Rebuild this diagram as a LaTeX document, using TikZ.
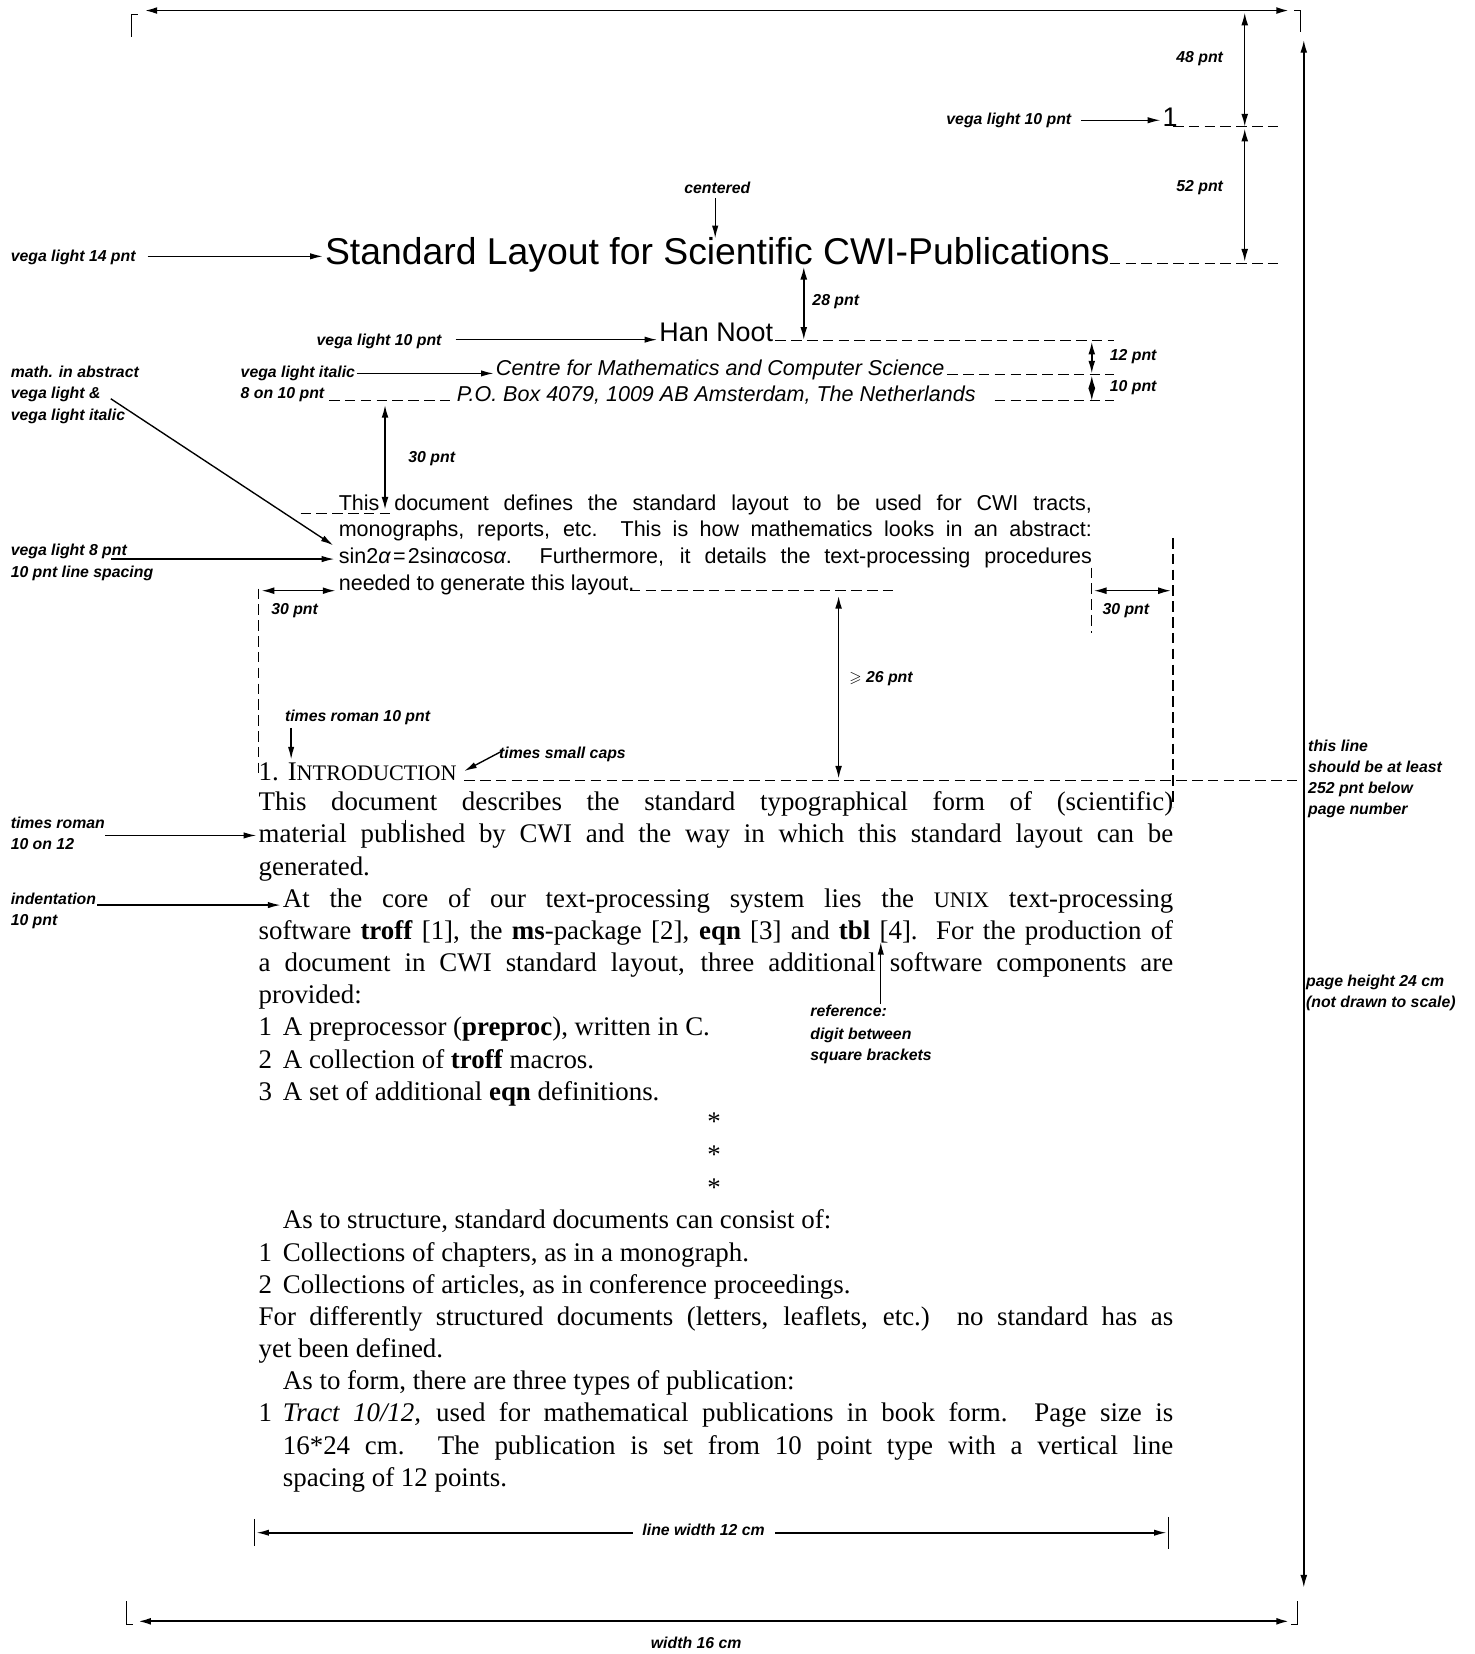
\documentclass[tikz,border=0pt]{standalone}
\usepackage{amssymb}
\usepackage{fontspec}
\setmainfont{Liberation Serif}
\newfontfamily\vegafont{Liberation Sans}
\usetikzlibrary{arrows.meta}
\newcommand\fakesc[1]{{\fontsize{21}{21}\selectfont #1}}
\tikzset{
 annot/.style={font=\vegafont\bfseries\itshape\fontsize{15}{18}\selectfont, inner sep=0pt, anchor=base west},
 bodytxt/.style={font=\fontsize{25.5}{30.5}\selectfont, inner sep=0pt, anchor=base west},
 abstxt/.style={font=\vegafont\fontsize{20.4}{25.5}\selectfont, inner sep=0pt, anchor=base west},
 dimarrow/.style={{Latex[length=12pt,width=6.5pt]}-{Latex[length=12pt,width=6.5pt]}, line width=1.4pt},
 ptr/.style={-{Latex[length=12pt,width=6pt]}, line width=1.3pt},
 guide/.style={dash pattern=on 10pt off 5pt, line width=1.2pt},
 corner/.style={line width=1.2pt},
}
\begin{document}
\begin{tikzpicture}[x=1pt,y=-1pt]
\useasboundingbox (0,0) rectangle (1398,1568);

% ---------------- text of the page ----------------
\node[font=\vegafont\fontsize{25.5}{30}\selectfont, inner sep=0pt, anchor=base west] (pnum) at (1102,120) {1};
\node[font=\vegafont\fontsize{35.4}{40}\selectfont, inner sep=0pt, anchor=base] (title) at (680,251) {Standard Layout for Scientific CWI-Publications};
\node[font=\vegafont\fontsize{25.5}{30}\selectfont, inner sep=0pt, anchor=base west] (author) at (625,324) {Han Noot};
\node[abstxt, font=\vegafont\itshape\fontsize{20.4}{25.5}\selectfont] (inst) at (470,356) {Centre for Mathematics and Computer Science};
\node[abstxt, font=\vegafont\itshape\fontsize{20.4}{25.5}\selectfont] (addr) at (433,381) {P.O. Box 4079, 1009 AB Amsterdam, The Netherlands};

\node[abstxt] (ab1) at (321,483.5) {\makebox[714pt][s]{This document defines the standard layout to be used for CWI tracts,}};
\node[abstxt] (ab2) at (321,509) {\makebox[714pt][s]{monographs, reports, etc.\ \ This is how mathematics looks in an abstract:}};
\node[abstxt] (ab3) at (321,534.5) {\makebox[714pt][s]{sin2\textit{α}\kern2pt=\kern2pt2sin\textit{α}cos\textit{α}.\ \ Furthermore, it details the text-processing procedures}};
\node[abstxt] (ab4) at (321,560) {needed to generate this layout.};

\node[bodytxt] (intro) at (245,740) {1. I\fakesc{NTRODUCTION}};
\node[bodytxt] (b1) at (245,768.5) {\makebox[867pt][s]{This document describes the standard typographical form of (scientific)}};
\node[bodytxt] (b2) at (245,799) {\makebox[867pt][s]{material published by CWI and the way in which this standard layout can be}};
\node[bodytxt] (b3) at (245,829.5) {generated.};
\node[bodytxt] (b4) at (268,860) {\makebox[844pt][s]{At the core of our text-processing system lies the \fakesc{UNIX} text-processing}};
\node[bodytxt] (b5) at (245,890.5) {\makebox[867pt][s]{software \textbf{troff} [1], the \textbf{ms}-package [2], \textbf{eqn} [3] and \textbf{tbl} [4].\ \ For the production of}};
\node[bodytxt] (b6) at (245,921) {\makebox[867pt][s]{a document in CWI standard layout, three additional software components are}};
\node[bodytxt] (b7) at (245,951.5) {provided:};
\node[bodytxt] (b8) at (245,982) {\makebox[23pt][l]{1}A preprocessor (\textbf{preproc}), written in C.};
\node[bodytxt] (b9) at (245,1012.5) {\makebox[23pt][l]{2}A collection of \textbf{troff} macros.};
\node[bodytxt] (b10) at (245,1043) {\makebox[23pt][l]{3}A set of additional \textbf{eqn} definitions.};

\node[bodytxt, anchor=base] (st1) at (677,1072) {*};
\node[bodytxt, anchor=base] (st2) at (677,1103) {*};
\node[bodytxt, anchor=base] (st3) at (677,1134) {*};

\node[bodytxt] (c1) at (268,1165) {As to structure, standard documents can consist of:};
\node[bodytxt] (c2) at (245,1195.5) {\makebox[23pt][l]{1}Collections of chapters, as in a monograph.};
\node[bodytxt] (c3) at (245,1226) {\makebox[23pt][l]{2}Collections of articles, as in conference proceedings.};
\node[bodytxt] (c4) at (245,1256.5) {\makebox[867pt][s]{For differently structured documents (letters, leaflets, etc.)\ \ no standard has as}};
\node[bodytxt] (c5) at (245,1287) {yet been defined.};
\node[bodytxt] (c6) at (268,1317.5) {As to form, there are three types of publication:};
\node[bodytxt] (c7) at (245,1348) {\makebox[23pt][l]{1}\makebox[844pt][s]{\textit{Tract 10/12,} used for mathematical publications in book form.\ \ Page size is}};
\node[bodytxt] (c8) at (268,1378.5) {\makebox[844pt][s]{16*24 cm. The publication is set from 10 point type with a vertical line}};
\node[bodytxt] (c9) at (268,1409) {spacing of 12 points.};

% ---------------- annotations ----------------
\node[annot] (a48) at (1115,59) {48 pnt};
\node[annot] (a52) at (1115,182) {52 pnt};
\node[annot] (apn) at (897,118) {vega light 10 pnt};
\node[annot, anchor=base] (acen) at (680,183) {centered};
\node[annot] (a14) at (10,248) {vega light 14 pnt};
\node[annot] (a28) at (770,290) {28 pnt};
\node[annot] (a10b) at (300,328) {vega light 10 pnt};
\node[annot] (a12) at (1052,342) {12 pnt};
\node[annot] (a10c) at (1052,371) {10 pnt};
\node[annot] (amath1) at (10,358) {math. in abstract};
\node[annot] (amath2) at (10,378) {vega light \&};
\node[annot] (amath3) at (10,399) {vega light italic};
\node[annot] (ait1) at (228,358) {vega light italic};
\node[annot] (ait2) at (228,378) {8 on 10 pnt};
\node[annot] (a30v) at (387,438) {30 pnt};
\node[annot] (a8a) at (10,527) {vega light 8 pnt};
\node[annot] (a8b) at (10,547) {10 pnt line spacing};
\node[annot] (a30l) at (257,583) {30 pnt};
\node[annot] (a30r) at (1045,583) {30 pnt};
\node[annot] (a26) at (805,647) {$\geqslant$ 26 pnt};
\node[annot] (atr) at (270,684) {times roman 10 pnt};
\node[annot] (asc) at (473,719) {times small caps};
\node[annot] (ath1) at (1240,712) {this line};
\node[annot] (ath2) at (1240,732) {should be at least};
\node[annot] (ath3) at (1240,752) {252 pnt below};
\node[annot] (ath4) at (1240,772) {page number};
\node[annot] (atr1) at (10,785) {times roman};
\node[annot] (atr2) at (10,805) {10 on 12};
\node[annot] (ain1) at (10,857) {indentation};
\node[annot] (ain2) at (10,877) {10 pnt};
\node[annot] (aref1) at (768,964) {reference:};
\node[annot] (aref2) at (768,985) {digit between};
\node[annot] (aref3) at (768,1005) {square brackets};
\node[annot] (aph1) at (1238,935) {page height 24 cm};
\node[annot] (aph2) at (1238,955) {(not drawn to scale)};
\node[annot, anchor=base] (alw) at (667,1456) {line width 12 cm};
\node[annot, anchor=base] (aw16) at (660,1563) {width 16 cm};

% ---------------- frame ----------------
\coordinate (tl1) at (125,35); \coordinate (tl2) at (125,14); \coordinate (tl3) at (131,14);
\coordinate (tr1) at (1227,10); \coordinate (tr2) at (1233,10); \coordinate (tr3) at (1233,30);
\coordinate (bl1) at (120,1518); \coordinate (bl2) at (120,1540); \coordinate (bl3) at (126,1540);
\coordinate (br1) at (1224,1540); \coordinate (br2) at (1230,1540); \coordinate (br3) at (1230,1518);
\draw[corner] (tl1) -- (tl2) -- (tl3);
\draw[corner] (tr1) -- (tr2) -- (tr3);
\draw[corner] (bl1) -- (bl2) -- (bl3);
\draw[corner] (br1) -- (br2) -- (br3);
\coordinate (wtL) at (137,10); \coordinate (wtR) at (1222,10);
\draw[dimarrow, line width=1.8pt] (wtL) -- (wtR);
\coordinate (wbL) at (131,1537); \coordinate (wbR) at (1222,1537);
\draw[dimarrow, line width=1.8pt] (wbL) -- (wbR);
\coordinate (phT) at (1236,38); \coordinate (phB) at (1236,1505);
\draw[dimarrow] (phT) -- (phB);

% ---------------- dimension arrows ----------------
\coordinate (d48a) at (1180,12); \coordinate (d48b) at (1180,120);
\draw[dimarrow] (d48a) -- (d48b);
\coordinate (d52a) at (1180,122); \coordinate (d52b) at (1180,248);
\draw[dimarrow] (d52a) -- (d52b);
\coordinate (d28a) at (762,253); \coordinate (d28b) at (762,322);
\draw[dimarrow] (d28a) -- (d28b);
\coordinate (d12a) at (1035,324); \coordinate (d12b) at (1035,354);
\draw[dimarrow, line width=1.5pt] (d12a) -- (d12b);
\coordinate (d10a) at (1035,356); \coordinate (d10b) at (1035,380);
\draw[dimarrow, line width=1.5pt] (d10a) -- (d10b);
\coordinate (d30a) at (365,384); \coordinate (d30b) at (365,483);
\draw[dimarrow] (d30a) -- (d30b);
\coordinate (d30la) at (248,560); \coordinate (d30lb) at (318,560);
\draw[dimarrow] (d30la) -- (d30lb);
\coordinate (d30ra) at (1037,560); \coordinate (d30rb) at (1110,560);
\draw[dimarrow] (d30ra) -- (d30rb);
\coordinate (d26a) at (795,565); \coordinate (d26b) at (795,738);
\draw[dimarrow] (d26a) -- (d26b);
\coordinate (lwL) at (243,1453); \coordinate (lwLe) at (600,1453);
\coordinate (lwR) at (1106,1453); \coordinate (lwRe) at (735,1453);
\draw[ptr, line width=1.5pt] (lwLe) -- (lwL);
\draw[ptr, line width=1.5pt] (lwRe) -- (lwR);
\coordinate (lwt1) at (241,1440); \coordinate (lwt2) at (241,1466);
\coordinate (lwt3) at (1108,1438); \coordinate (lwt4) at (1108,1468);
\draw[line width=1.2pt] (lwt1) -- (lwt2);
\draw[line width=1.2pt] (lwt3) -- (lwt4);

% ---------------- pointer arrows ----------------
\coordinate (p1a) at (1025,114); \coordinate (p1b) at (1100,114);
\draw[ptr] (p1a) -- (p1b);
\coordinate (p2a) at (678,188); \coordinate (p2b) at (678,226);
\draw[ptr] (p2a) -- (p2b);
\coordinate (p3a) at (140,243); \coordinate (p3b) at (306,243);
\draw[ptr] (p3a) -- (p3b);
\coordinate (p4a) at (432,322); \coordinate (p4b) at (623,322);
\draw[ptr] (p4a) -- (p4b);
\coordinate (p5a) at (338,354); \coordinate (p5b) at (468,354);
\draw[ptr] (p5a) -- (p5b);
\coordinate (p6a) at (105,378); \coordinate (p6b) at (316,517);
\draw[ptr] (p6a) -- (p6b);
\coordinate (p7a) at (105,530); \coordinate (p7b) at (317,530);
\draw[ptr] (p7a) -- (p7b);
\coordinate (p8a) at (276,690); \coordinate (p8b) at (276,720);
\draw[ptr] (p8a) -- (p8b);
\coordinate (p9a) at (476,712); \coordinate (p9b) at (440,731);
\draw[ptr] (p9a) -- (p9b);
\coordinate (p10a) at (100,792); \coordinate (p10b) at (243,792);
\draw[ptr] (p10a) -- (p10b);
\coordinate (p11a) at (92,858); \coordinate (p11b) at (266,858);
\draw[ptr] (p11a) -- (p11b);
\coordinate (p12a) at (835,952); \coordinate (p12b) at (835,893);
\draw[ptr] (p12a) -- (p12b);
\coordinate (mk1) at (384,777); \coordinate (mk2) at (384,797);
\draw[line width=0.8pt] (mk1) -- (mk2);

% ---------------- dashed guide lines ----------------
\coordinate (g1a) at (1112,120); \coordinate (g1b) at (1215,120);
\draw[guide] (g1a) -- (g1b);
\coordinate (g2a) at (1052,250); \coordinate (g2b) at (1215,250);
\draw[guide] (g2a) -- (g2b);
\coordinate (g3a) at (735,323); \coordinate (g3b) at (1056,323);
\draw[guide] (g3a) -- (g3b);
\coordinate (g4a) at (898,355); \coordinate (g4b) at (1056,355);
\draw[guide] (g4a) -- (g4b);
\coordinate (g5a) at (312,380); \coordinate (g5b) at (431,380);
\draw[guide] (g5a) -- (g5b);
\coordinate (g6a) at (943,380); \coordinate (g6b) at (1056,380);
\draw[guide] (g6a) -- (g6b);
\coordinate (g7a) at (285,487); \coordinate (g7b) at (372,487);
\draw[guide] (g7a) -- (g7b);
\coordinate (g8a) at (597,560); \coordinate (g8b) at (850,560);
\draw[guide] (g8a) -- (g8b);
\coordinate (g9a) at (245,558); \coordinate (g9b) at (245,736);
\draw[guide] (g9a) -- (g9b);
\coordinate (g10a) at (1035,538); \coordinate (g10b) at (1035,600);
\draw[guide] (g10a) -- (g10b);
\coordinate (g11a) at (1112,510); \coordinate (g11b) at (1112,765);
\draw[guide] (g11a) -- (g11b);
\coordinate (g12a) at (440,740); \coordinate (g12b) at (1236,740);
\draw[guide] (g12a) -- (g12b);
\end{tikzpicture}
\end{document}
